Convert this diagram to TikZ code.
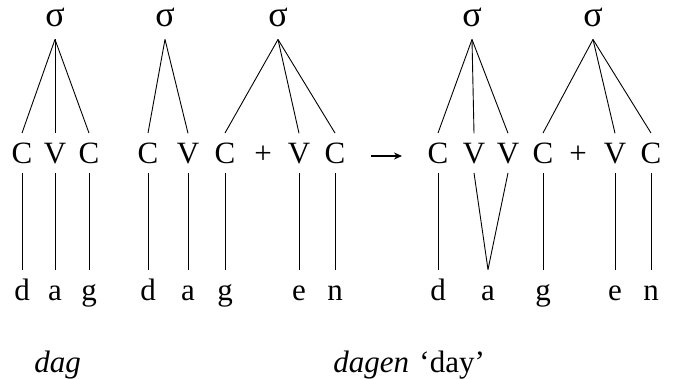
\documentclass[tikz,border=0pt]{standalone}
\usepackage{fontspec}
\setmainfont{Liberation Serif}
\usetikzlibrary{arrows.meta}
\tikzstyle{syl} = [inner sep=0pt, text depth=13pt, anchor=base,
    font=\fontsize{36}{40}\selectfont]
\tikzstyle{skel} = [inner xsep=0pt, inner ysep=9pt, anchor=base]
\tikzstyle{seg} = [inner xsep=0pt, inner ysep=9pt, text height=21pt,
    text depth=7pt, anchor=base]
\tikzstyle{gloss} = [inner sep=0pt, anchor=base west]

\begin{document}
\begin{tikzpicture}[x=1pt,y=-1pt,line width=0.9pt,
                    font=\fontsize{31}{36}\selectfont]
  \useasboundingbox (0,0) rectangle (675,378);

  % syllable nodes
  \node[syl] (s1) at (55,26)  {σ};
  \node[syl] (s2) at (165,26) {σ};
  \node[syl] (s3) at (278,26) {σ};
  \node[syl] (s4) at (472,26) {σ};
  \node[syl] (s5) at (593,26) {σ};

  % CV tier
  \node[skel] (c1) at (22,163)  {C};
  \node[skel] (v1) at (55,163)  {V};
  \node[skel] (c2) at (89,163)  {C};
  \node[skel] (c3) at (148,163) {C};
  \node[skel] (v2) at (188,163) {V};
  \node[skel] (c4) at (225,163) {C};
  \node[skel] (p1) at (263,163) {+};
  \node[skel] (v3) at (299,163) {V};
  \node[skel] (c5) at (335,163) {C};
  \node[skel] (c6) at (438,163) {C};
  \node[skel] (v4) at (474,163) {V};
  \node[skel] (v5) at (508,163) {V};
  \node[skel] (c7) at (543,163) {C};
  \node[skel] (p2) at (578,163) {+};
  \node[skel] (v6) at (615,163) {V};
  \node[skel] (c8) at (651,163) {C};

  % segments
  \node[seg] (d1) at (22,300)  {d};
  \node[seg] (a1) at (55,300)  {a};
  \node[seg] (g1) at (89,300)  {g};
  \node[seg] (d2) at (148,300) {d};
  \node[seg] (a2) at (188,300) {a};
  \node[seg] (g2) at (225,300) {g};
  \node[seg] (e1) at (299,300) {e};
  \node[seg] (n1) at (335,300) {n};
  \node[seg] (d3) at (438,300) {d};
  \node[seg] (a3) at (488,300) {a};
  \node[seg] (g3) at (543,300) {g};
  \node[seg] (e2) at (615,300) {e};
  \node[seg] (n2) at (651,300) {n};

  % words
  \node[gloss] (w1) at (34,372)  {\textit{dag}};
  \node[gloss] (w2) at (333,372) {\textit{dagen}};
  \node[gloss] (w3) at (419,372) {`day'};

  \foreach \a/\b in {s1/c1,s1/v1,s1/c2,s2/c3,s2/v2,s3/c4,s3/v3,s3/c5,
                     s4/c6,s4/v4,s4/v5,s5/c7,s5/v6,s5/c8}
    \draw (\a.south) -- (\b.north);

  \foreach \a/\b in {c1/d1,v1/a1,c2/g1,c3/d2,v2/a2,c4/g2,v3/e1,c5/n1,
                     c6/d3,v4/a3,v5/a3,c7/g3,v6/e2,c8/n2}
    \draw (\a.south) -- (\b.north);

  \coordinate (arrL) at (371,156);
  \coordinate (arrR) at (402,156);
  \draw[line width=1.1pt,-{Stealth[length=8pt,width=7pt]}] (arrL) -- (arrR);
\end{tikzpicture}
\end{document}
